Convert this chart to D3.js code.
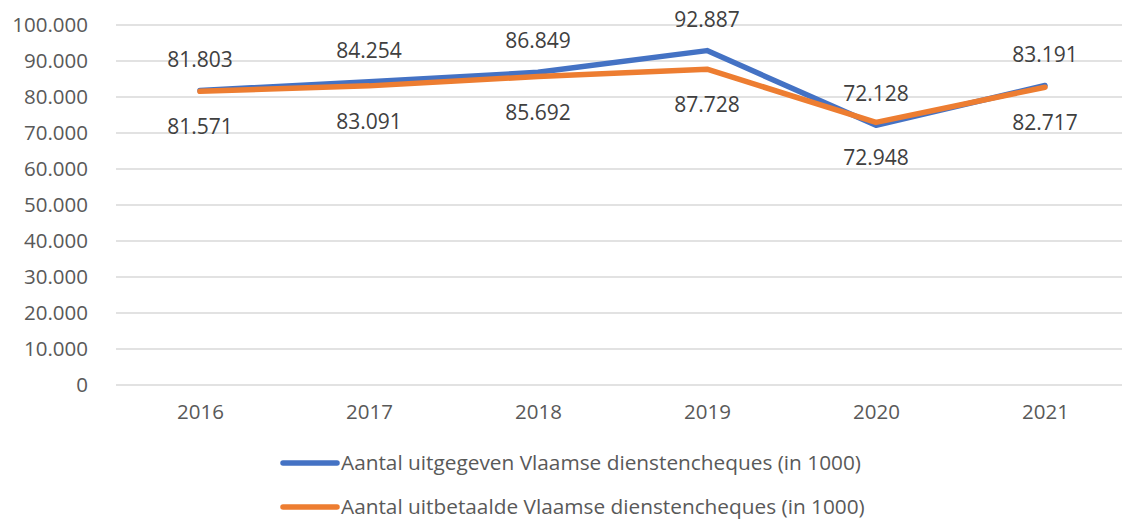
<!DOCTYPE html>
<html><head><meta charset="utf-8">
<script src="https://cdn.jsdelivr.net/npm/d3@7"></script>
<style>html,body{margin:0;padding:0;background:#fff;}svg{display:block;}</style>
</head><body>
<svg id="chart" width="1122" height="522"></svg>
<script>
const years = ["2016","2017","2018","2019","2020","2021"];
const uitgegeven = [81803, 84254, 86849, 92887, 72128, 83191];
const uitbetaald = [81571, 83091, 85692, 87728, 72948, 82717];
const yTicks = [0,10000,20000,30000,40000,50000,60000,70000,80000,90000,100000];
const seriesNames = ["Aantal uitgegeven Vlaamse dienstencheques (in 1000)", "Aantal uitbetaalde Vlaamse dienstencheques (in 1000)"];
const colors = ["#4472C4", "#ED7D31"];

const svg = d3.select("#chart");
const font = "'Open Sans', 'Liberation Sans', sans-serif";
const textColor = "#595959";
const fmt = v => d3.format(",")(v).replace(/,/g, ".");

const x = d3.scalePoint().domain(years).range([200, 1045]);
const y = d3.scaleLinear().domain([0, 100000]).range([385, 25]);

// gridlines
svg.append("g").selectAll("line").data(yTicks).join("line")
  .attr("x1", 116).attr("x2", 1122)
  .attr("y1", d => y(d)).attr("y2", d => y(d))
  .attr("stroke", "#d9d9d9").attr("stroke-width", 1.3);

// y axis labels
const yAxis = d3.axisLeft(y).tickValues(yTicks).tickFormat(fmt).tickSize(0).tickPadding(0);
const gy = svg.append("g").attr("transform", "translate(88,0)").call(yAxis);
gy.select(".domain").remove();
gy.selectAll("text").attr("font-family", font).attr("font-size", 20.5).attr("fill", textColor);

// x axis labels
const xAxis = d3.axisBottom(x).tickSize(0).tickPadding(0);
const gx = svg.append("g").attr("transform", "translate(0,404)").call(xAxis);
gx.select(".domain").remove();
gx.selectAll("text").attr("font-family", font).attr("font-size", 20.5).attr("fill", textColor);

const line = d3.line().x((d,i) => x(years[i])).y(d => y(d));
const allSeries = [uitgegeven, uitbetaald];

allSeries.forEach((s, k) => {
  svg.append("path").datum(s).attr("d", line)
    .attr("fill", "none").attr("stroke", colors[k]).attr("stroke-width", 5.5)
    .attr("stroke-linecap", "round").attr("stroke-linejoin", "round");
});

// labels
allSeries.forEach((s, k) => {
  svg.append("g").selectAll("text").data(s).join("text")
    .attr("x", (d,i) => x(years[i]))
    .attr("y", d => k === 0 ? y(d) - 24 : y(d) + 43)
    .attr("text-anchor", "middle")
    .attr("font-family", font).attr("font-size", 21).attr("fill", "#404040")
    .text(d => fmt(d));
});

// legend
seriesNames.forEach((n, k) => {
  const ly = 463 + k * 44;
  svg.append("line").attr("x1", 283).attr("x2", 337).attr("y1", ly).attr("y2", ly)
    .attr("stroke", colors[k]).attr("stroke-width", 5.5).attr("stroke-linecap", "round");
  svg.append("text").attr("x", 341).attr("y", ly + 7)
    .attr("font-family", font).attr("font-size", 20.8).attr("fill", textColor).text(n);
});
</script>
</body></html>
